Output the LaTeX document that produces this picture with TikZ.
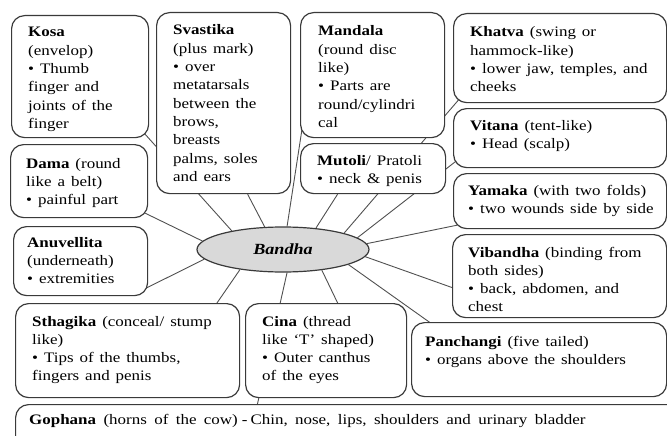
\documentclass[tikz,border=0pt]{standalone}
\usepackage{fontspec}
\setmainfont{Liberation Serif}[FakeStretch=1.17, WordSpace=1.4]
\usetikzlibrary{calc,shapes.geometric}
\pgfdeclarelayer{background}
\pgfsetlayers{background,main}
\definecolor{bordergray}{HTML}{3A3A3A}
\definecolor{linegray}{HTML}{505050}
\definecolor{ellfill}{HTML}{D9D9D9}
\newcommand{\lbl}[1]{\parbox[t]{260pt}{\fontsize{14.5pt}{18.3pt}\selectfont\raggedright #1}}
\begin{document}
\begin{tikzpicture}[x=1pt,y=-1pt,
  bx/.style={draw=bordergray, line width=1.2pt, fill=white, rounded corners=13pt, inner sep=0pt, anchor=north west},
  tx/.style={anchor=base west, inner sep=0pt, text=black},
  conn/.style={draw=linegray, line width=0.9pt}]
\useasboundingbox (0,0) rectangle (667,436);
\clip (0,0) rectangle (667,436);
% boxes
\node[bx, minimum width=137pt, minimum height=122pt] (kosa) at (11,15) {};
\node[bx, minimum width=134pt, minimum height=181pt] (svastika) at (156,12) {};
\node[bx, minimum width=144pt, minimum height=125pt] (mandala) at (300,12) {};
\node[bx, minimum width=145pt, minimum height=50pt] (mutoli) at (300,143) {};
\node[bx, minimum width=213pt, minimum height=89pt] (khatva) at (453,13) {};
\node[bx, minimum width=213pt, minimum height=59pt] (vitana) at (453,108) {};
\node[bx, minimum width=213pt, minimum height=55pt] (yamaka) at (453,173) {};
\node[bx, minimum width=214pt, minimum height=83pt] (vibandha) at (452,234) {};
\node[bx, minimum width=255pt, minimum height=74pt] (panchangi) at (411,322) {};
\node[bx, minimum width=161pt, minimum height=94pt] (cina) at (245,303) {};
\node[bx, minimum width=224pt, minimum height=94pt] (sthagika) at (15,303) {};
\node[bx, minimum width=137pt, minimum height=73pt] (dama) at (10,144) {};
\node[bx, minimum width=134pt, minimum height=69pt] (anuvellita) at (13,226) {};
\node[bx, minimum width=665pt, minimum height=66pt] (gophana) at (15,404) {};
% centre
\node[ellipse, draw=bordergray, line width=1.2pt, fill=ellfill, minimum width=172pt, minimum height=45pt, inner sep=0pt] (bandha) at (283,249.5) {\fontsize{15.5pt}{18pt}\selectfont\textbf{\textit{Bandha}}};
% texts
\node[tx] (kosaT) at (28,37) {\lbl{\textbf{Kosa}\\(envelop)\\• Thumb\\finger and\\joints of the\\finger}};
\node[tx] (svastikaT) at (173,35) {\lbl{\textbf{Svastika}\\(plus mark)\\• over\\metatarsals\\between the\\brows,\\breasts\\palms, soles\\and ears}};
\node[tx] (mandalaT) at (318,36) {\lbl{\textbf{Mandala}\\(round disc\\like)\\• Parts are\\round/cylindri\\cal}};
\node[tx] (mutoliT) at (317,165) {\lbl{\textbf{Mutoli}/ Pratoli\\• neck \& penis}};
\node[tx] (khatvaT) at (470,37) {\lbl{\textbf{Khatva} (swing or\\hammock-like)\\• lower jaw, temples, and\\cheeks}};
\node[tx] (vitanaT) at (470,130) {\lbl{\textbf{Vitana} (tent-like)\\• Head (scalp)}};
\node[tx] (yamakaT) at (468,195) {\lbl{\textbf{Yamaka} (with two folds)\\• two wounds side by side}};
\node[tx] (vibandhaT) at (468,257) {\lbl{\textbf{Vibandha} (binding from\\both sides)\\• back, abdomen, and\\chest}};
\node[tx] (panchangiT) at (425,346) {\lbl{\textbf{Panchangi} (five tailed)\\• organs above the shoulders}};
\node[tx] (cinaT) at (262,326) {\lbl{\textbf{Cina} (thread\\like ‘T’ shaped)\\• Outer canthus\\of the eyes}};
\node[tx] (sthagikaT) at (32,326) {\lbl{\textbf{Sthagika} (conceal/ stump\\like)\\• Tips of the thumbs,\\fingers and penis}};
\node[tx] (damaT) at (26,168) {\lbl{\textbf{Dama} (round\\like a belt)\\• painful part}};
\node[tx] (anuvellitaT) at (27,247) {\lbl{\textbf{Anuvellita}\\(underneath)\\• extremities}};
\node[tx] (gophanaT) at (29,424) {\fontsize{14.5pt}{18pt}\selectfont\spaceskip=7.4pt plus 1pt\relax\textbf{Gophana} (horns of the cow)\hspace{4pt}-\hspace{3pt}Chin, nose, lips, shoulders and urinary bladder};
% connectors
\begin{pgfonlayer}{background}
\draw[conn] (bandha.160) -- ($(kosa.south east)+(-5,-5)$);
\draw[conn] (bandha.129) -- ($(svastika.south)+(24,0)$);
\draw[conn] (bandha.80) -- ($(mandala.south west)+(2,-9)$);
\draw[conn] (bandha.33) -- ($(mutoli.south)+(-35.5,0)$);
\draw[conn] (bandha.15) -- ($(khatva.south west)+(7,-5)$);
\draw[conn] (bandha.9) -- ($(vitana.south west)+(3,-7)$);
\draw[conn] (bandha.4) -- ($(yamaka.south west)+(4,-4)$);
\draw[conn] (bandha.355) -- ($(vibandha.west)+(3,12.5)$);
\draw[conn] (bandha.347) -- ($(panchangi.north west)+(21,2)$);
\draw[conn] (bandha.332) -- ($(cina.north)+(12.5,2)$);
\draw[conn] (bandha.280) -- ($(gophana.north west)+(242,2)$);
\draw[conn] (bandha.205) -- ($(sthagika.north)+(88,2)$);
\draw[conn] (bandha.187) -- ($(anuvellita.east)+(-3,27.5)$);
\draw[conn] (bandha.174) -- ($(dama.south east)+(-3,-5)$);
\end{pgfonlayer}
\end{tikzpicture}
\end{document}
